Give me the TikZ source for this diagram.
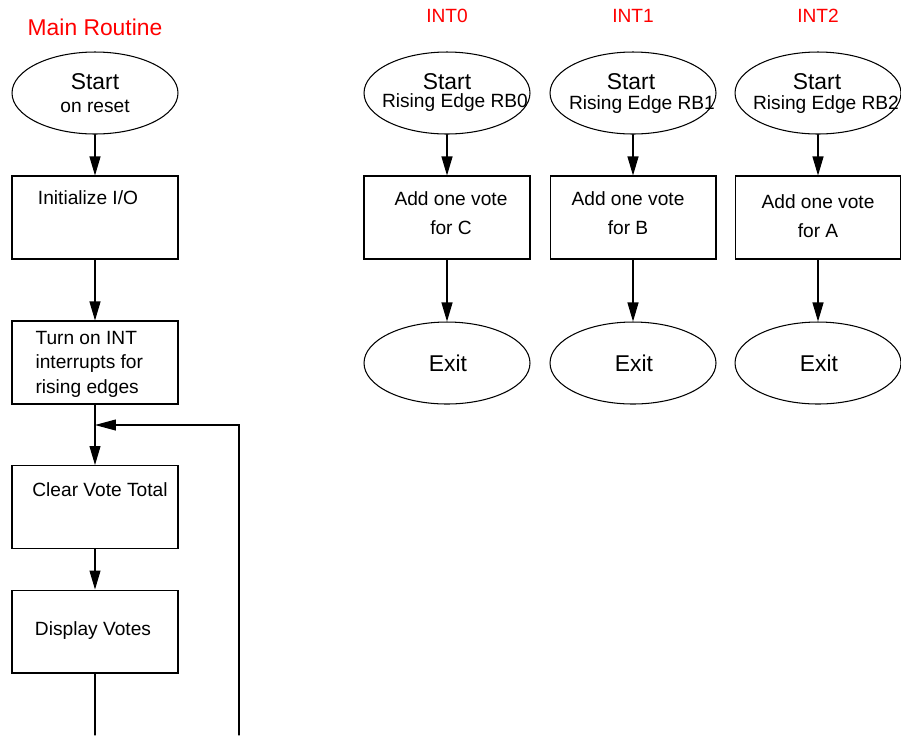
\documentclass[tikz,border=0pt]{standalone}
\usepackage{fontspec}
\setmainfont{Liberation Sans}
\usetikzlibrary{arrows.meta}
\usetikzlibrary{calc}
\usetikzlibrary{shapes.geometric}

\begin{document}
\begin{tikzpicture}[x=0.02cm, y=-0.02cm, line cap=round, line width=0.6pt,
    term/.style={draw, ellipse, minimum width=3.32cm, minimum height=1.64cm, inner sep=0},
    box/.style={draw, rectangle, minimum width=3.32cm, minimum height=1.66cm, inner sep=0},
    big/.style={font=\fontsize{13}{15.6}\selectfont, inner sep=0},
    txt/.style={font=\fontsize{10.9}{13}\selectfont, inner sep=0},
    flow/.style={-{Triangle[length=0.38cm, width=0.22cm]}}]
    % main routine and the three interrupt handlers
    \useasboundingbox (0,0) rectangle (901,735);

    \node[big, red] (title) at (95,27) {Main Routine};
    \node[term] (m0) at (95,93) {};
    \node[big] (m0a) at (95,82) {Start};
    \node[txt] (m0b) at (95,106) {on reset};
    \node[box] (m1) at (95,217.5) {};
    \node[txt] (m1a) at (88,198) {Initialize I/O};
    \node[box] (m2) at (95,362.5) {};
    \node[txt, align=left, anchor=west, font=\fontsize{10.9}{13.9}\selectfont] (m2a) at (35,364)
        {Turn on INT\\interrupts for\\rising edges};
    \node[box] (m3) at (95,507) {};
    \node[txt] (m3a) at (100,490) {Clear Vote Total};
    \node[box] (m4) at (95,631.5) {};
    \node[txt] (m4a) at (93,631) {Display Votes};
    \coordinate (jn) at (95,425);
    \coordinate (bot) at (95,735);
    \coordinate (ret) at (239,735);

    \draw[flow] (m0) -- (m1);
    \draw[flow] (m1) -- (m2);
    \draw[flow] (m2) -- (m3);
    \draw[flow] (m3) -- (m4);
    \draw (m4) -- (bot);
    \draw[-{Triangle[length=0.42cm, width=0.22cm]}] (ret) |- (jn);

    % INT0
    \node[txt, red] (i0) at (447,16) {INT0};
    \node[term] (s0) at (447,93) {};
    \node[big] (s0a) at (447,82) {Start};
    \node[txt] (s0b) at (455,103) {Rising Edge RB0};
    \node[box] (a0) at (447,217.5) {};
    \node[txt, align=center, font=\fontsize{10.9}{16.4}\selectfont] (a0a) at (451,213.5) {Add one vote\\for C};
    \node[term] (e0) at (447,363) {};
    \node[big] (e0a) at (448,363) {Exit};
    \draw[flow] (s0) -- (a0);
    \draw[flow] (a0) -- (e0);

    % INT1
    \node[txt, red] (i1) at (633,16) {INT1};
    \node[term] (s1) at (633,93) {};
    \node[big] (s1a) at (631,82) {Start};
    \node[txt] (s1b) at (642,105) {Rising Edge RB1};
    \node[box] (a1) at (633,217.5) {};
    \node[txt, align=center, font=\fontsize{10.9}{16.4}\selectfont] (a1a) at (628,213.5) {Add one vote\\for B};
    \node[term] (e1) at (633,363) {};
    \node[big] (e1a) at (634,363) {Exit};
    \draw[flow] (s1) -- (a1);
    \draw[flow] (a1) -- (e1);

    % INT2
    \node[txt, red] (i2) at (818,16) {INT2};
    \node[term] (s2) at (818,93) {};
    \node[big] (s2a) at (817,82) {Start};
    \node[txt] (s2b) at (826,105) {Rising Edge RB2};
    \node[box] (a2) at (818,217.5) {};
    \node[txt, align=center, font=\fontsize{10.9}{16.4}\selectfont] (a2a) at (818,216) {Add one vote\\for A};
    \node[term] (e2) at (818,363) {};
    \node[big] (e2a) at (819,363) {Exit};
    \draw[flow] (s2) -- (a2);
    \draw[flow] (a2) -- (e2);
\end{tikzpicture}
\end{document}
